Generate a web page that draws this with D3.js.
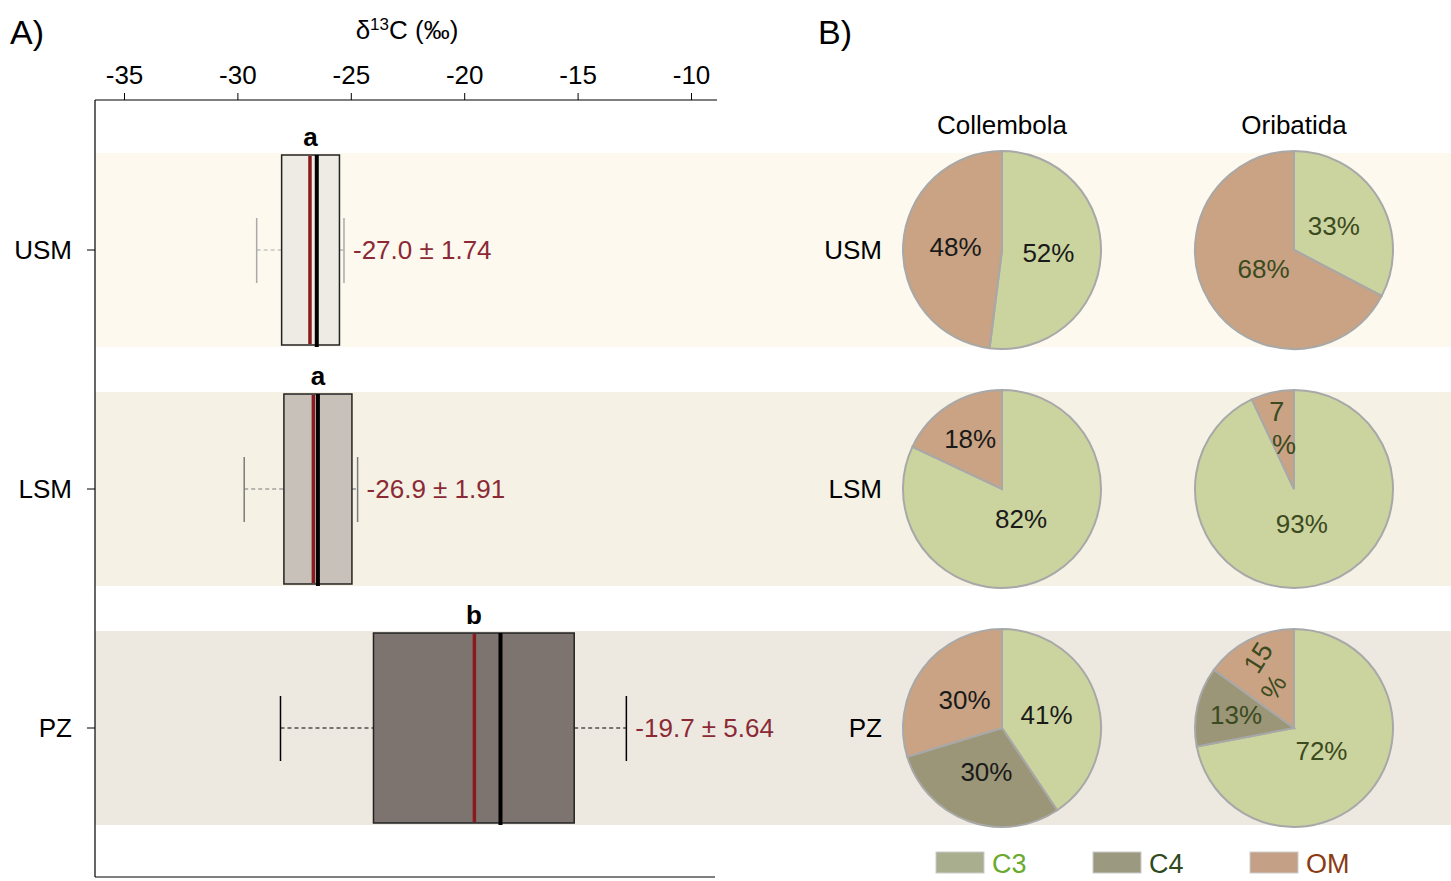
<!DOCTYPE html>
<html>
<head>
<meta charset="utf-8">
<script src="https://cdn.jsdelivr.net/npm/d3@7"></script>
<style>
    body { margin: 0; background: #fff; }
    text { font-family: "Liberation Sans", Arial, sans-serif; }
</style>
</head>
<body>
<svg id="chart" width="1451" height="881"></svg>
<script>
// data
const groups = ["USM", "LSM", "PZ"];
const whiskerLow = [-29.15, -29.7, -28.1];
const q1 = [-28.05, -27.95, -24.0];
const medians = [-26.5, -26.45, -18.4];
const q3 = [-25.5, -24.95, -15.15];
const whiskerHigh = [-25.3, -24.7, -12.85];
const meanLine = [-26.8, -26.65, -19.55];
const means = [-27.0, -26.9, -19.7];
const sds = [1.74, 1.91, 5.64];
const letters = ["a", "a", "b"];
const xTicks = [-35, -30, -25, -20, -15, -10];

const taxa = ["Collembola", "Oribatida"];
const sources = ["C3", "C4", "OM"];
// percent per source (C3, C4, OM) for each group x taxon
const collembola = [[52, 0, 48], [82, 0, 18], [41, 30, 30]];
const oribatida = [[33, 0, 68], [93, 0, 7], [72, 13, 15]];

const svg = d3.select("#chart");
const width = 1451;

const bandColors = ["#fdf9ef", "#f5f1e5", "#ede9e0"];
const boxFills = ["#eeebe5", "#c8c1b9", "#7d746f"];
const whiskerColors = ["#aaaaaa", "#7a7a7a", "#000000"];
const pieColors = { C3: "#cbd49e", C4: "#9a9677", OM: "#c9a383" };
const legendFill = { C3: "#a9ae8f", C4: "#9b9a80", OM: "#c4a086" };
const legendText = { C3: "#6aaa2e", C4: "#2e4a1e", OM: "#8b3a14" };

const x = d3.scaleLinear().domain([-35, -10]).range([124, 691]);
const y = d3.scalePoint().domain(groups).range([250, 728]);
const bandH = 194;
const boxH = 190;

// background bands
svg.selectAll("rect.band")
    .data(groups)
    .enter()
    .append("rect")
    .attr("class", "band")
    .attr("x", 95)
    .attr("y", (d) => y(d) - bandH / 2)
    .attr("width", width - 95)
    .attr("height", bandH)
    .attr("fill", (d, i) => bandColors[i]);

// panel labels
svg.append("text").attr("x", 10).attr("y", 44).attr("font-size", 34).text("A)");
svg.append("text").attr("x", 818).attr("y", 44).attr("font-size", 34).text("B)");

// x title
const title = svg.append("text")
    .attr("x", 407)
    .attr("y", 39)
    .attr("text-anchor", "middle")
    .attr("font-size", 26);
title.append("tspan").text("δ");
title.append("tspan").attr("font-size", 17).attr("dy", -9).text("13");
title.append("tspan").attr("dy", 9).text("C (‰)");

// top axis
const xAxis = svg.append("g")
    .attr("transform", "translate(0,100)")
    .call(d3.axisTop(x).tickValues(xTicks).tickSize(7).tickSizeOuter(0).tickFormat((d) => d));
xAxis.select(".domain").remove();
xAxis.selectAll("text").attr("font-size", 26).attr("font-family", "Liberation Sans, Arial").attr("dy", "-6");
xAxis.selectAll("line").attr("stroke", "#000");

svg.append("line").attr("x1", 95).attr("x2", 717).attr("y1", 100).attr("y2", 100).attr("stroke", "#000").attr("stroke-width", 1.2);
svg.append("line").attr("x1", 95).attr("x2", 95).attr("y1", 100).attr("y2", 877).attr("stroke", "#000").attr("stroke-width", 1.2);
svg.append("line").attr("x1", 95).attr("x2", 715).attr("y1", 877).attr("y2", 877).attr("stroke", "#000").attr("stroke-width", 1.2);

// left row labels + ticks
groups.forEach((g) => {
    svg.append("line").attr("x1", 87).attr("x2", 95).attr("y1", y(g)).attr("y2", y(g)).attr("stroke", "#000");
    svg.append("text")
        .attr("x", 72)
        .attr("y", y(g))
        .attr("dy", "0.35em")
        .attr("text-anchor", "end")
        .attr("font-size", 26)
        .text(g);
});

// box plots
groups.forEach((g, i) => {
    const cy = y(g);
    const wc = whiskerColors[i];
    // whiskers
    svg.append("line").attr("x1", x(whiskerLow[i])).attr("x2", x(q1[i])).attr("y1", cy).attr("y2", cy)
        .attr("stroke", wc).attr("stroke-dasharray", "4,3").attr("stroke-width", 1.2);
    svg.append("line").attr("x1", x(q3[i])).attr("x2", x(whiskerHigh[i])).attr("y1", cy).attr("y2", cy)
        .attr("stroke", wc).attr("stroke-dasharray", "4,3").attr("stroke-width", 1.2);
    [whiskerLow[i], whiskerHigh[i]].forEach((v) => {
        svg.append("line").attr("x1", x(v)).attr("x2", x(v)).attr("y1", cy - 32).attr("y2", cy + 33)
            .attr("stroke", wc).attr("stroke-width", 1.5);
    });
    // box
    svg.append("rect")
        .attr("x", x(q1[i]))
        .attr("y", cy - boxH / 2)
        .attr("width", x(q3[i]) - x(q1[i]))
        .attr("height", boxH)
        .attr("fill", boxFills[i])
        .attr("stroke", "#222")
        .attr("stroke-width", 1.5);
    // mean (red) and median (black)
    svg.append("line").attr("x1", x(meanLine[i])).attr("x2", x(meanLine[i]))
        .attr("y1", cy - boxH / 2 + 1).attr("y2", cy + boxH / 2 - 1)
        .attr("stroke", "#8b1a1f").attr("stroke-width", 3.5);
    svg.append("line").attr("x1", x(medians[i])).attr("x2", x(medians[i]))
        .attr("y1", cy - boxH / 2).attr("y2", cy + boxH / 2 + 2)
        .attr("stroke", "#000").attr("stroke-width", 4);
    // significance letter
    svg.append("text")
        .attr("x", (x(q1[i]) + x(q3[i])) / 2)
        .attr("y", cy - boxH / 2 - 9)
        .attr("text-anchor", "middle")
        .attr("font-size", 26)
        .attr("font-weight", "bold")
        .text(letters[i]);
    // mean ± sd
    svg.append("text")
        .attr("x", x(whiskerHigh[i]) + 9)
        .attr("y", cy)
        .attr("dy", "0.35em")
        .attr("font-size", 26)
        .attr("fill", "#8b2a35")
        .text(`${means[i].toFixed(1)} ± ${sds[i].toFixed(2)}`);
});

// pies
const px = d3.scalePoint().domain(taxa).range([1002, 1294]);
const r = 99;
const pie = d3.pie().sort(null).value((d) => d.value);
const arc = d3.arc().innerRadius(0).outerRadius(r);
const labelColor = { Collembola: "#1a1a1a", Oribatida: "#3b4a1f" };
// small slices shown as number over "%", with tilt
const wrapped = { "LSM|Oribatida|OM": 0, "PZ|Oribatida|OM": -58 };

taxa.forEach((t) => {
    svg.append("text")
        .attr("x", px(t))
        .attr("y", 134)
        .attr("text-anchor", "middle")
        .attr("font-size", 26)
        .text(t);
});

groups.forEach((g, i) => {
    svg.append("text")
        .attr("x", 882)
        .attr("y", y(g))
        .attr("dy", "0.35em")
        .attr("text-anchor", "end")
        .attr("font-size", 26)
        .text(g);

    taxa.forEach((t) => {
        const vals = (t === "Collembola" ? collembola : oribatida)[i];
        const slices = pie(sources.map((s, k) => ({ source: s, value: vals[k] })).filter((d) => d.value > 0));
        const gp = svg.append("g").attr("transform", `translate(${px(t)},${y(g)})`);
        gp.selectAll("path")
            .data(slices)
            .enter()
            .append("path")
            .attr("d", arc)
            .attr("fill", (d) => pieColors[d.data.source])
            .attr("stroke", "#a8a8a8")
            .attr("stroke-width", 2);

        slices.forEach((d) => {
            const mid = (d.startAngle + d.endAngle) / 2;
            const frac = d.data.value / 100;
            const key = `${g}|${t}|${d.data.source}`;
            const col = labelColor[t];
            if (key in wrapped) {
                const rot = wrapped[key];
                [[0.8, `${d.data.value}`], [0.46, "%"]].forEach(([f, txt]) => {
                    const lx = Math.sin(mid) * r * f;
                    const ly = -Math.cos(mid) * r * f;
                    gp.append("text")
                        .attr("transform", `translate(${lx},${ly}) rotate(${rot})`)
                        .attr("dy", "0.35em")
                        .attr("text-anchor", "middle")
                        .attr("font-size", 27)
                        .attr("fill", col)
                        .text(txt);
                });
                return;
            }
            const f = frac >= 0.6 ? 0.36 : frac < 0.2 ? 0.6 : 0.47;
            gp.append("text")
                .attr("x", Math.sin(mid) * r * f)
                .attr("y", -Math.cos(mid) * r * f)
                .attr("dy", "0.35em")
                .attr("text-anchor", "middle")
                .attr("font-size", 26)
                .attr("fill", col)
                .text(`${d.data.value}%`);
        });
    });
});

// legend
const lx = d3.scalePoint().domain(sources).range([936, 1250]);
sources.forEach((s) => {
    svg.append("rect")
        .attr("x", lx(s))
        .attr("y", 852)
        .attr("width", 48)
        .attr("height", 21)
        .attr("fill", legendFill[s])
        .attr("stroke", "#cccccc");
    svg.append("text")
        .attr("x", lx(s) + 56)
        .attr("y", 873)
        .attr("font-size", 27)
        .attr("fill", legendText[s])
        .text(s);
});
</script>
</body>
</html>
